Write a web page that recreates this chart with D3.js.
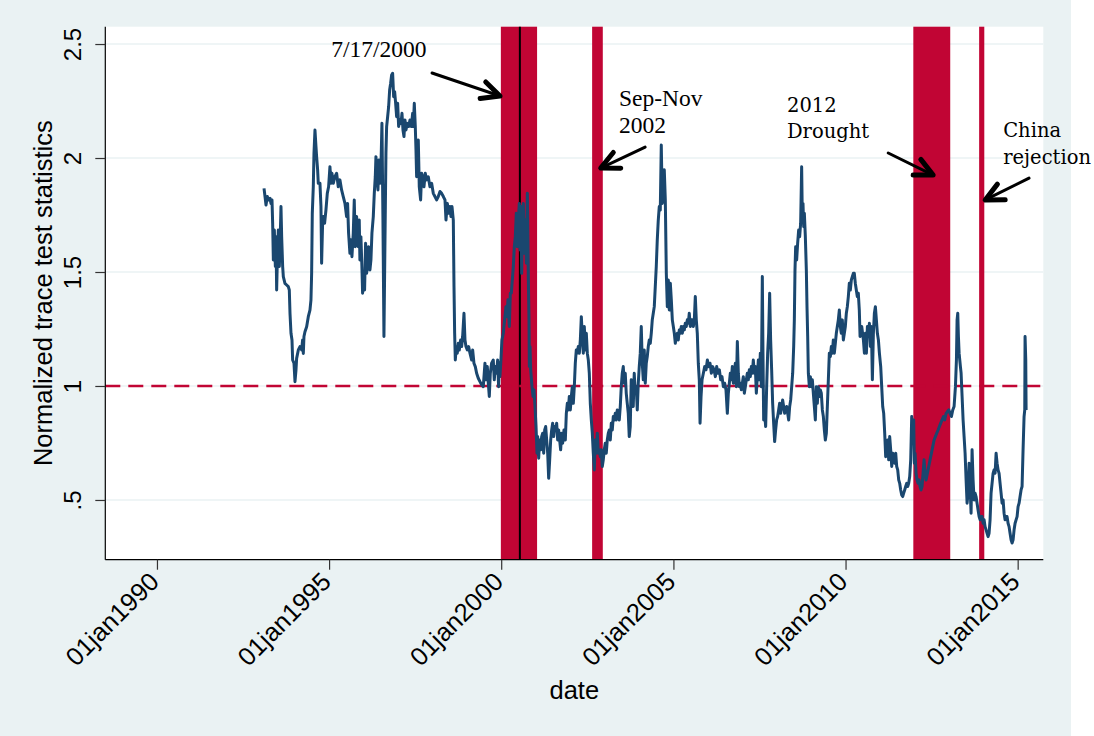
<!DOCTYPE html>
<html>
<head>
<meta charset="utf-8">
<script src="https://cdn.jsdelivr.net/npm/d3@7"></script>
<style>
  html, body { margin: 0; padding: 0; background: #ffffff; }
  svg { display: block; }
</style>
</head>
<body>
<svg id="canvas" width="1094" height="736"></svg>
<script>
'use strict';

/* y axis ticks and their labels */
const yTicks = [0.5, 1, 1.5, 2, 2.5];
const yTickLabels = ['.5', '1', '1.5', '2', '2.5'];

/* x axis ticks (years, 1st of january) and their labels */
const xTickYears = [1990, 1995, 2000, 2005, 2010, 2015];
const xTickLabels = ['01jan1990', '01jan1995', '01jan2000', '01jan2005', '01jan2010', '01jan2015'];

/* shaded event windows, as decimal years */
const bandStarts = [1999.99, 2002.64, 2011.97, 2013.88];
const bandEnds = [2001.04, 2002.95, 2013.04, 2014.03];

/* single event date (7/17/2000) */
const eventYear = 2000.541;

/* annotation labels: lines of text with their anchor (decimal year, value) */
const noteLines = [
  ['7/17/2000'],
  ['Sep-Nov', '2002'],
  ['2012', 'Drought'],
  ['China', 'rejection']
];
const noteYears = [1995.06, 2003.42, 2008.30, 2014.58];
const noteValues = [2.443, 2.228, 2.202, 2.092];
const noteFonts = ['Liberation Serif', 'Liberation Serif', 'DejaVu Serif', 'DejaVu Serif'];

/* arrows: tail and tip, in (decimal year, value) */
const arrowTails = [[1997.99, 2.373], [2004.18, 2.048], [2011.24, 2.022], [2015.33, 1.912]];
const arrowTips = [[1999.965, 2.272], [2002.89, 1.956], [2012.545, 1.925], [2014.056, 1.816]];

/* normalized trace test statistic, [decimal year, value] */
const traceSeries = [
  [1993.109,1.867],[1993.138,1.831],[1993.167,1.794],[1993.205,1.831],[1993.234,1.816],[1993.283,1.823],[1993.312,1.801],[1993.341,1.816],
  [1993.360,1.714],[1993.380,1.553],[1993.409,1.684],[1993.438,1.524],[1993.457,1.655],[1993.476,1.421],[1993.496,1.553],[1993.525,1.684],
  [1993.554,1.524],[1993.573,1.611],[1993.602,1.787],[1993.622,1.655],[1993.651,1.524],[1993.670,1.480],[1993.718,1.450],[1993.767,1.443],
  [1993.815,1.436],[1993.844,1.421],[1993.864,1.319],[1993.893,1.231],[1993.922,1.202],[1993.941,1.114],[1993.980,1.100],[1994.009,1.019],
  [1994.038,1.070],[1994.057,1.121],[1994.106,1.158],[1994.154,1.173],[1994.202,1.158],[1994.231,1.202],[1994.251,1.143],[1994.270,1.217],
  [1994.299,1.238],[1994.348,1.260],[1994.396,1.304],[1994.444,1.333],[1994.473,1.377],[1994.493,1.494],[1994.512,1.757],[1994.541,1.874],
  [1994.561,2.021],[1994.590,2.123],[1994.619,2.050],[1994.638,2.006],[1994.667,1.948],[1994.686,1.889],[1994.735,1.889],[1994.764,1.787],
  [1994.783,1.538],[1994.812,1.714],[1994.832,1.743],[1994.870,1.714],[1994.909,1.772],[1994.948,1.845],[1994.986,1.874],[1995.025,1.962],
  [1995.054,1.889],[1995.083,1.933],[1995.122,1.889],[1995.170,1.918],[1995.219,1.933],[1995.267,1.874],[1995.316,1.904],[1995.364,1.860],
  [1995.412,1.831],[1995.461,1.801],[1995.509,1.743],[1995.538,1.801],[1995.567,1.670],[1995.606,1.582],[1995.635,1.641],[1995.664,1.567],
  [1995.703,1.670],[1995.732,1.816],[1995.761,1.611],[1995.800,1.743],[1995.819,1.684],[1995.848,1.611],[1995.877,1.728],[1995.896,1.553],
  [1995.925,1.655],[1995.954,1.524],[1995.974,1.407],[1996.003,1.480],[1996.032,1.421],[1996.061,1.626],[1996.090,1.494],[1996.119,1.524],
  [1996.148,1.611],[1996.187,1.509],[1996.216,1.553],[1996.245,1.670],[1996.284,1.743],[1996.313,1.845],[1996.342,1.918],[1996.361,2.006],
  [1996.390,1.918],[1996.419,1.860],[1996.448,1.991],[1996.477,1.889],[1996.506,1.962],[1996.535,2.152],[1996.564,1.728],[1996.593,1.217],
  [1996.622,1.626],[1996.651,2.021],[1996.671,2.138],[1996.700,2.181],[1996.729,2.225],[1996.758,2.298],[1996.787,2.328],[1996.816,2.364],
  [1996.845,2.372],[1996.874,2.269],[1996.903,2.291],[1996.932,2.240],[1996.961,2.181],[1996.990,2.240],[1997.019,2.138],[1997.058,2.167],
  [1997.087,2.152],[1997.116,2.196],[1997.145,2.123],[1997.174,2.094],[1997.203,2.167],[1997.232,2.123],[1997.271,2.152],[1997.310,2.138],
  [1997.348,2.167],[1997.387,2.138],[1997.426,2.196],[1997.445,2.138],[1997.474,2.240],[1997.503,2.138],[1997.523,2.035],[1997.542,1.918],
  [1997.590,2.079],[1997.619,1.874],[1997.658,1.816],[1997.687,1.933],[1997.716,1.918],[1997.755,1.874],[1997.793,1.933],[1997.832,1.904],
  [1997.881,1.918],[1997.929,1.874],[1997.978,1.889],[1998.026,1.845],[1998.074,1.831],[1998.123,1.816],[1998.171,1.831],
  [1998.221,1.853],[1998.269,1.845],[1998.318,1.831],[1998.366,1.816],[1998.395,1.728],[1998.434,1.801],[1998.482,1.758],[1998.511,1.787],
  [1998.540,1.743],[1998.570,1.787],[1998.608,1.728],[1998.628,1.436],[1998.647,1.231],[1998.666,1.114],[1998.695,1.173],[1998.724,1.144],
  [1998.753,1.187],[1998.782,1.158],[1998.821,1.202],[1998.850,1.173],[1998.879,1.217],[1998.918,1.319],[1998.947,1.202],[1998.976,1.173],
  [1999.015,1.158],[1999.053,1.173],[1999.092,1.144],[1999.140,1.114],[1999.170,1.158],[1999.208,1.100],[1999.247,1.085],[1999.286,1.056],
  [1999.334,1.034],[1999.383,1.019],[1999.431,1.005],[1999.479,0.997],[1999.528,1.100],[1999.557,1.027],[1999.596,1.085],[1999.625,1.012],
  [1999.654,0.954],[1999.683,1.056],[1999.721,1.100],[1999.770,1.114],[1999.799,1.027],[1999.828,1.085],[1999.867,1.056],[1999.896,1.114],
  [1999.925,0.997],[1999.944,1.100],[1999.963,1.041],[1999.992,1.114],[2000.021,1.202],[2000.060,1.231],[2000.099,1.290],[2000.138,1.348],
  [2000.167,1.304],[2000.196,1.378],[2000.235,1.261],[2000.264,1.407],[2000.293,1.407],[2000.322,1.465],[2000.351,1.524],[2000.380,1.611],
  [2000.409,1.655],[2000.438,1.758],[2000.467,1.611],[2000.496,1.728],[2000.525,1.801],[2000.545,1.597],[2000.574,1.787],[2000.593,1.494],
  [2000.612,1.699],[2000.641,1.801],[2000.670,1.582],[2000.700,1.728],[2000.729,1.538],[2000.758,1.845],[2000.787,1.465],[2000.806,1.290],
  [2000.816,1.085],[2000.835,1.173],[2000.854,1.071],[2000.893,0.997],[2000.922,0.954],[2000.951,0.983],[2000.980,0.910],[2001.009,0.822],
  [2001.038,0.705],[2001.057,0.778],[2001.086,0.683],[2001.115,0.763],[2001.144,0.720],[2001.173,0.778],[2001.203,0.793],[2001.232,0.705],
  [2001.261,0.807],[2001.290,0.822],[2001.319,0.763],[2001.348,0.705],[2001.377,0.595],[2001.406,0.676],[2001.435,0.763],[2001.464,0.807],
  [2001.493,0.837],[2001.522,0.778],[2001.551,0.822],[2001.580,0.807],[2001.609,0.837],[2001.638,0.763],[2001.667,0.807],[2001.696,0.763],
  [2001.725,0.720],[2001.754,0.793],[2001.783,0.749],[2001.822,0.807],[2001.861,0.763],[2001.890,0.880],[2001.919,0.924],[2001.948,0.895],
  [2001.977,0.954],[2002.006,0.895],[2002.035,0.954],[2002.064,0.997],[2002.093,0.924],[2002.122,0.997],[2002.151,1.100],[2002.180,1.158],
  [2002.209,1.144],[2002.238,1.173],[2002.268,1.144],[2002.297,1.202],[2002.326,1.304],[2002.355,1.217],[2002.384,1.144],[2002.413,1.261],
  [2002.442,1.158],[2002.471,1.231],[2002.500,1.144],[2002.529,1.114],[2002.558,1.056],[2002.587,0.924],[2002.616,0.851],[2002.645,0.793],
  [2002.674,0.705],[2002.703,0.632],[2002.732,0.763],[2002.761,0.705],[2002.790,0.793],[2002.819,0.705],[2002.848,0.720],[2002.877,0.690],
  [2002.906,0.720],[2002.935,0.647],[2002.964,0.676],[2002.993,0.720],[2003.022,0.749],[2003.051,0.705],[2003.080,0.763],[2003.110,0.793],
  [2003.139,0.807],[2003.168,0.763],[2003.197,0.837],[2003.226,0.807],[2003.255,0.866],[2003.284,0.851],[2003.313,0.880],[2003.342,0.851],
  [2003.371,0.895],[2003.400,0.880],[2003.429,0.851],[2003.458,0.910],[2003.487,0.997],[2003.516,1.056],[2003.545,1.085],[2003.574,1.012],
  [2003.603,1.056],[2003.632,0.968],[2003.661,0.924],[2003.690,0.880],[2003.719,0.778],[2003.748,0.822],[2003.777,1.027],[2003.806,0.997],
  [2003.835,0.910],[2003.864,1.056],[2003.893,0.968],[2003.922,0.997],[2003.952,0.895],[2003.981,1.012],[2004.010,1.085],[2004.039,1.144],
  [2004.068,1.261],[2004.097,1.100],[2004.126,1.027],[2004.155,1.158],[2004.184,1.012],[2004.213,1.100],[2004.242,1.129],[2004.271,1.173],
  [2004.300,1.202],[2004.329,1.187],[2004.358,1.231],[2004.387,1.290],[2004.416,1.319],[2004.445,1.348],[2004.474,1.436],[2004.503,1.524],
  [2004.532,1.641],[2004.561,1.728],[2004.590,1.787],[2004.619,1.772],[2004.648,2.057],[2004.677,1.801],[2004.706,1.845],[2004.735,1.948],
  [2004.765,1.816],[2004.794,1.494],[2004.823,1.348],[2004.852,1.465],[2004.881,1.333],[2004.910,1.451],[2004.939,1.378],[2004.968,1.290],
  [2004.997,1.261],[2005.026,1.231],[2005.055,1.187],[2005.084,1.217],[2005.113,1.231],[2005.142,1.202],[2005.171,1.246],[2005.200,1.231],
  [2005.229,1.261],[2005.258,1.231],[2005.287,1.261],[2005.316,1.246],[2005.345,1.275],[2005.374,1.261],[2005.403,1.290],[2005.432,1.275],
  [2005.461,1.319],[2005.490,1.261],[2005.519,1.290],[2005.548,1.290],[2005.578,1.261],[2005.607,1.290],[2005.636,1.392],[2005.665,1.290],
  [2005.694,1.231],[2005.723,1.100],[2005.752,1.027],[2005.774,0.837],[2005.803,0.954],[2005.832,1.027],[2005.870,1.056],[2005.909,1.085],
  [2005.948,1.071],[2005.987,1.114],[2006.025,1.085],[2006.064,1.100],[2006.103,1.056],[2006.141,1.085],[2006.180,1.071],[2006.219,1.041],
  [2006.257,1.085],[2006.296,1.056],[2006.335,1.071],[2006.374,1.027],[2006.412,1.041],[2006.451,0.997],[2006.490,1.012],[2006.528,0.983],
  [2006.567,0.880],[2006.596,0.968],[2006.625,1.012],[2006.654,1.056],[2006.683,1.027],[2006.712,1.085],[2006.741,1.012],[2006.770,1.056],
  [2006.800,1.100],[2006.829,0.997],[2006.858,1.195],[2006.887,1.056],[2006.916,0.997],[2006.945,1.012],[2006.974,0.983],[2007.003,1.012],
  [2007.032,1.041],[2007.061,0.968],[2007.090,0.997],[2007.119,1.027],[2007.148,1.056],[2007.177,1.027],[2007.206,1.071],[2007.235,1.041],
  [2007.264,1.085],[2007.293,1.056],[2007.322,1.114],[2007.351,1.056],[2007.380,1.085],[2007.410,0.968],[2007.439,1.041],[2007.468,1.114],
  [2007.497,1.027],[2007.526,1.144],[2007.555,0.997],[2007.584,1.480],[2007.603,1.144],[2007.623,0.851],[2007.652,0.880],[2007.681,0.822],
  [2007.710,0.997],[2007.739,1.144],[2007.768,1.231],[2007.797,1.407],[2007.826,1.202],[2007.855,1.071],[2007.884,0.924],[2007.913,0.837],
  [2007.942,0.756],[2007.971,0.807],[2008.000,0.851],[2008.029,0.866],[2008.058,0.895],[2008.087,0.924],[2008.116,0.880],[2008.145,0.910],
  [2008.174,0.939],[2008.203,0.910],[2008.232,0.880],[2008.261,0.895],[2008.290,0.910],[2008.320,0.880],[2008.349,0.851],[2008.378,0.910],
  [2008.407,0.939],[2008.436,0.997],[2008.465,1.056],[2008.494,1.173],[2008.513,1.290],[2008.532,1.509],[2008.551,1.611],[2008.580,1.553],
  [2008.609,1.626],[2008.638,1.684],[2008.667,1.655],[2008.696,1.714],[2008.725,1.962],[2008.745,1.728],[2008.764,1.801],[2008.784,1.699],
  [2008.803,1.758],[2008.832,1.655],[2008.861,1.509],[2008.880,1.348],[2008.900,1.217],[2008.919,1.056],[2008.948,0.997],[2008.977,1.041],
  [2009.006,0.997],[2009.035,1.027],[2009.064,0.968],[2009.093,0.910],[2009.122,0.851],[2009.151,0.997],[2009.180,0.924],[2009.209,0.997],
  [2009.238,0.954],[2009.267,0.983],[2009.296,0.968],[2009.326,0.895],[2009.355,0.866],[2009.384,0.807],[2009.413,0.763],[2009.442,0.793],
  [2009.471,0.910],[2009.500,1.027],[2009.529,1.144],[2009.558,1.129],[2009.587,1.173],[2009.616,1.144],[2009.645,1.202],[2009.674,1.144],
  [2009.703,1.187],[2009.732,1.231],[2009.761,1.261],[2009.790,1.290],[2009.819,1.333],[2009.848,1.261],[2009.877,1.231],[2009.906,1.290],
  [2009.936,1.202],[2009.965,1.231],[2009.994,1.261],[2010.023,1.319],[2010.052,1.348],[2010.081,1.392],[2010.110,1.451],[2010.139,1.421],
  [2010.168,1.465],[2010.197,1.480],[2010.226,1.494],[2010.255,1.494],[2010.284,1.451],[2010.313,1.421],[2010.342,1.392],[2010.371,1.407],
  [2010.400,1.333],[2010.422,1.217],[2010.470,1.261],[2010.519,1.202],[2010.548,1.144],[2010.577,1.231],[2010.606,1.144],[2010.635,1.261],
  [2010.664,1.217],[2010.693,1.275],[2010.722,1.173],[2010.751,1.261],[2010.780,1.027],[2010.809,1.231],[2010.838,1.319],[2010.867,1.348],
  [2010.896,1.290],[2010.925,1.231],[2010.955,1.202],[2010.984,1.144],[2011.022,1.085],[2011.051,0.997],[2011.080,0.910],[2011.109,0.880],
  [2011.138,0.793],[2011.167,0.690],[2011.196,0.734],[2011.225,0.763],[2011.254,0.676],[2011.283,0.778],[2011.312,0.720],[2011.342,0.647],
  [2011.371,0.705],[2011.400,0.676],[2011.429,0.661],[2011.458,0.705],[2011.487,0.647],[2011.516,0.632],[2011.545,0.588],[2011.574,0.573],
  [2011.603,0.544],[2011.632,0.522],[2011.661,0.515],[2011.690,0.530],[2011.719,0.544],[2011.748,0.559],[2011.777,0.573],[2011.806,0.559],
  [2011.835,0.573],[2011.865,0.603],[2011.894,0.676],[2011.923,0.866],[2011.952,0.778],[2011.981,0.851],[2012.000,0.661],[2012.020,0.705],
  [2012.049,0.617],[2012.078,0.588],[2012.107,0.573],[2012.136,0.588],[2012.165,0.559],[2012.194,0.544],[2012.223,0.559],[2012.252,0.617],
  [2012.281,0.676],[2012.310,0.617],[2012.339,0.588],[2012.378,0.617],[2012.417,0.647],[2012.455,0.676],[2012.494,0.705],[2012.533,0.734],
  [2012.572,0.763],[2012.610,0.778],[2012.649,0.793],[2012.688,0.807],[2012.726,0.822],[2012.765,0.837],[2012.804,0.851],[2012.843,0.866],
  [2012.881,0.851],[2012.920,0.880],[2012.959,0.888],[2012.997,0.895],[2013.036,0.880],[2013.075,0.866],[2013.114,0.895],[2013.152,0.910],
  [2013.191,0.997],[2013.220,1.114],[2013.239,1.290],[2013.259,1.319],[2013.278,1.217],[2013.298,1.144],[2013.317,1.114],[2013.336,1.085],
  [2013.356,1.056],[2013.385,0.954],[2013.414,0.851],[2013.443,0.778],[2013.472,0.705],[2013.501,0.588],[2013.530,0.486],[2013.559,0.530],
  [2013.588,0.661],[2013.617,0.559],[2013.646,0.442],[2013.675,0.720],[2013.704,0.588],[2013.733,0.500],[2013.762,0.530],[2013.791,0.515],
  [2013.820,0.486],[2013.849,0.456],[2013.879,0.427],[2013.908,0.413],[2013.937,0.427],[2013.966,0.427],[2013.995,0.398],[2014.024,0.413],
  [2014.053,0.383],[2014.082,0.369],[2014.111,0.354],[2014.140,0.339],[2014.169,0.354],[2014.198,0.413],[2014.227,0.530],[2014.256,0.573],
  [2014.285,0.617],[2014.314,0.632],[2014.344,0.617],[2014.373,0.705],[2014.402,0.661],[2014.431,0.632],[2014.460,0.617],[2014.489,0.573],
  [2014.518,0.530],[2014.547,0.486],[2014.576,0.500],[2014.605,0.442],[2014.634,0.413],[2014.663,0.427],[2014.692,0.427],[2014.721,0.398],
  [2014.750,0.383],[2014.779,0.354],[2014.808,0.325],[2014.838,0.311],[2014.867,0.325],[2014.896,0.369],[2014.925,0.398],[2014.954,0.413],
  [2014.983,0.427],[2015.012,0.471],[2015.041,0.486],[2015.070,0.515],[2015.099,0.544],[2015.128,0.559],[2015.157,0.720],[2015.186,0.866],
  [2015.206,0.895],[2015.215,1.217],[2015.235,1.114],[2015.245,0.895]
];

/* convert a decimal year into a Date */
function toDate(y){
  let yr = Math.floor(y);
  let start = new Date(yr, 0, 1);
  let end = new Date(yr + 1, 0, 1);
  return new Date(+start + (y - yr) * (end - start));
}

/* drawing area */
let svg = d3.select('#canvas');
let W = 1094, H = 736;
let plotLeft = 105.3, plotRight = 1043.3, plotTop = 26.7, plotBottom = 559.7;

let x = d3.scaleTime()
  .domain([toDate(1988.5), toDate(2015.745)])
  .range([plotLeft, plotRight])
  ;
let y = d3.scaleLinear()
  .domain([0.238, 2.576])
  .range([plotBottom, plotTop])
  ;

/* graph region background and plot region */
svg.append('rect')
  .attr('x', 0).attr('y', 0)
  .attr('width', 1071).attr('height', H)
  .attr('fill', '#eaf2f3')
  ;
svg.append('rect')
  .attr('x', plotLeft).attr('y', plotTop)
  .attr('width', plotRight - plotLeft).attr('height', plotBottom - plotTop)
  .attr('fill', '#ffffff')
  ;

/* horizontal grid lines */
svg.append('g')
  .selectAll('line')
  .data(yTicks)
  .enter().append('line')
    .attr('x1', plotLeft).attr('x2', plotRight)
    .attr('y1', function(d){ return y(d); })
    .attr('y2', function(d){ return y(d); })
    .attr('stroke', '#eaf2f3')
    .attr('stroke-width', 1.5)
  ;

/* shaded event windows */
svg.append('g')
  .selectAll('rect')
  .data(bandStarts)
  .enter().append('rect')
    .attr('x', function(d){ return x(toDate(d)); })
    .attr('y', plotTop)
    .attr('width', function(d, i){ return x(toDate(bandEnds[i])) - x(toDate(d)); })
    .attr('height', plotBottom - plotTop)
    .attr('fill', '#c10534')
  ;

/* 7/17/2000 line */
svg.append('line')
  .attr('x1', x(toDate(eventYear))).attr('x2', x(toDate(eventYear)))
  .attr('y1', plotTop).attr('y2', plotBottom)
  .attr('stroke', '#000000')
  .attr('stroke-width', 2)
  ;

/* reference line at 1 */
svg.append('line')
  .attr('x1', plotLeft).attr('x2', plotRight)
  .attr('y1', y(1)).attr('y2', y(1))
  .attr('stroke', '#c10534')
  .attr('stroke-width', 2.4)
  .attr('stroke-dasharray', '15,8')
  ;

/* the series */
let line = d3.line()
  .x(function(d){ return x(toDate(d[0])); })
  .y(function(d){ return y(d[1]); })
  ;
svg.append('path')
  .datum(traceSeries)
  .attr('d', line)
  .attr('fill', 'none')
  .attr('stroke', '#1a476f')
  .attr('stroke-width', 3)
  .attr('stroke-linejoin', 'round')
  ;

/* left axis */
let yAxis = d3.axisLeft(y)
  .tickValues(yTicks)
  .tickFormat(function(d, i){ return yTickLabels[i]; })
  .tickSize(10)
  .tickPadding(0)
  ;
let gy = svg.append('g')
  .attr('transform', 'translate(' + plotLeft + ',0)')
  .call(yAxis)
  ;
gy.select('.domain')
  .attr('d', 'M0,' + plotTop + 'V' + plotBottom)
  .attr('stroke', '#000000')
  .attr('stroke-width', 1.2)
  ;
gy.selectAll('.tick line').attr('stroke', '#333333').attr('stroke-width', 1.2);
gy.selectAll('.tick text')
  .attr('x', null).attr('dy', null)
  .attr('transform', 'translate(-24.5,0) rotate(-90)')
  .attr('text-anchor', 'middle')
  .attr('font-family', 'Liberation Sans, Arial, sans-serif')
  .attr('font-size', 24)
  .attr('fill', '#000000')
  ;

/* bottom axis */
let xAxis = d3.axisBottom(x)
  .tickValues(xTickYears.map(function(d){ return new Date(d, 0, 1); }))
  .tickFormat(function(d, i){ return xTickLabels[i]; })
  .tickSize(10)
  ;
let gx = svg.append('g')
  .attr('transform', 'translate(0,' + plotBottom + ')')
  .call(xAxis)
  ;
gx.select('.domain')
  .attr('d', 'M' + plotLeft + ',0H' + plotRight)
  .attr('stroke', '#000000')
  .attr('stroke-width', 1.2)
  ;
gx.selectAll('.tick line').attr('stroke', '#333333').attr('stroke-width', 1.2);
gx.selectAll('.tick text')
  .attr('y', null).attr('dy', null)
  .attr('transform', 'translate(3,23.5) rotate(-45)')
  .attr('text-anchor', 'end')
  .attr('font-family', 'Liberation Sans, Arial, sans-serif')
  .attr('font-size', 25.5)
  .attr('fill', '#000000')
  ;

/* axis titles */
svg.append('text')
  .attr('transform', 'translate(52,' + ((plotTop + plotBottom) / 2) + ') rotate(-90)')
  .attr('text-anchor', 'middle')
  .attr('font-family', 'Liberation Sans, Arial, sans-serif')
  .attr('font-size', 25.5)
  .text('Normalized trace test statistics')
  ;
svg.append('text')
  .attr('x', (plotLeft + plotRight) / 2)
  .attr('y', 699)
  .attr('text-anchor', 'middle')
  .attr('font-family', 'Liberation Sans, Arial, sans-serif')
  .attr('font-size', 25.5)
  .text('date')
  ;

/* annotation text */
noteLines.forEach(function(lines, i){
  let t = svg.append('text')
    .attr('x', x(toDate(noteYears[i])))
    .attr('y', y(noteValues[i]))
    .attr('font-family', noteFonts[i])
    .attr('font-size', noteFonts[i] === 'DejaVu Serif' ? 19.5 : 23.5)
    .attr('fill', '#000000')
    ;
  lines.forEach(function(s, j){
    t.append('tspan')
      .attr('x', x(toDate(noteYears[i])))
      .attr('dy', j === 0 ? 0 : (noteFonts[i] === 'DejaVu Serif' ? 26.5 : 26.7))
      .text(s);
  });
});

/* arrows: a thin shaft and a heavier open head */
function arrowEnds(d, i){
  let x0 = x(toDate(d[0])), y0 = y(d[1]);
  let x1 = x(toDate(arrowTips[i][0])), y1 = y(arrowTips[i][1]);
  return [x0, y0, x1, y1];
}
let arrows = svg.append('g')
  .selectAll('g')
  .data(arrowTails)
  .enter().append('g')
  ;
arrows.append('path')
  .attr('d', function(d, i){
    let e = arrowEnds(d, i);
    return 'M' + e[0] + ',' + e[1] + 'L' + e[2] + ',' + e[3];
  })
  .attr('fill', 'none')
  .attr('stroke', '#000000')
  .attr('stroke-width', 3)
  .attr('stroke-linecap', 'round')
  ;
arrows.append('path')
  .attr('d', function(d, i){
    let e = arrowEnds(d, i);
    let a = Math.atan2(e[3] - e[1], e[2] - e[0]);
    let len = 20, spread = 0.45;
    let b1 = [e[2] - len * Math.cos(a - spread), e[3] - len * Math.sin(a - spread)];
    let b2 = [e[2] - len * Math.cos(a + spread), e[3] - len * Math.sin(a + spread)];
    return 'M' + b1[0] + ',' + b1[1] + 'L' + e[2] + ',' + e[3] + 'L' + b2[0] + ',' + b2[1];
  })
  .attr('fill', 'none')
  .attr('stroke', '#000000')
  .attr('stroke-width', 5)
  .attr('stroke-linecap', 'round')
  .attr('stroke-linejoin', 'round')
  ;
</script>
</body>
</html>
